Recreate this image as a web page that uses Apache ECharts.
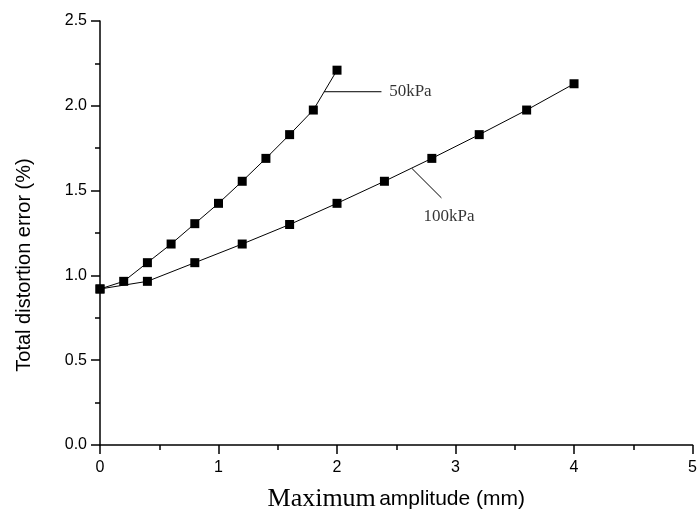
<!DOCTYPE html>
<html>
<head>
<meta charset="utf-8">
<script src="https://cdn.jsdelivr.net/npm/echarts@6/dist/echarts.min.js"></script>
<style>html,body{margin:0;padding:0;background:#fff;}#c{width:700px;height:517px;}</style>
</head>
<body>
<div id="c"></div>
<script>
const x50 = [0, 0.2, 0.4, 0.6, 0.8, 1.0, 1.2, 1.4, 1.6, 1.8, 2.0];
const y50 = [0.92, 0.965, 1.075, 1.185, 1.305, 1.425, 1.555, 1.69, 1.83, 1.975, 2.21];
const x100 = [0, 0.4, 0.8, 1.2, 1.6, 2.0, 2.4, 2.8, 3.2, 3.6, 4.0];
const y100 = [0.92, 0.965, 1.075, 1.185, 1.30, 1.425, 1.555, 1.69, 1.83, 1.975, 2.13];
const seriesNames = ['50kPa', '100kPa'];
// annotation leader lines and label anchors (data units)
const lead50 = [[1.89, 2.083], [2.375, 2.083]];
const lead100 = [[2.633, 1.63], [2.881, 1.457]];
const labelPos50 = [2.44, 2.083];
const labelPos100 = [2.73, 1.35];

const chart = echarts.init(document.getElementById('c'), null, {renderer: 'canvas'});
const black = '#000';
const sans = 'Liberation Sans, Arial, sans-serif';
const serif = 'Liberation Serif, Times New Roman, serif';

function pairs(xs, ys) { return xs.map((x, i) => [x, ys[i]]); }

chart.setOption({
  animation: false,
  backgroundColor: '#fff',
  grid: {left: 100, right: 7, top: 21, bottom: 63, containLabel: false},
  xAxis: {
    type: 'value', min: 0, max: 5, interval: 1,
    name: '{a|Maximum} {b|amplitude (mm)}',
    nameLocation: 'middle', nameGap: 41,
    nameTextStyle: {
      rich: {
        a: {fontFamily: serif, fontSize: 26, color: black},
        b: {fontFamily: sans, fontSize: 21, color: black}
      }
    },
    axisLine: {show: true, onZero: false, lineStyle: {color: black, width: 1.5}},
    axisTick: {show: true, inside: false, length: 9, lineStyle: {color: black, width: 1.5}},
    minorTick: {show: true, splitNumber: 2, length: 5, lineStyle: {color: black, width: 1.5}},
    axisLabel: {color: black, fontFamily: sans, fontSize: 16, margin: 15},
    splitLine: {show: false}
  },
  yAxis: {
    type: 'value', min: 0, max: 2.5, interval: 0.5,
    name: 'Total distortion error (%)',
    nameLocation: 'middle', nameGap: 66, nameRotate: 90,
    nameTextStyle: {fontFamily: sans, fontSize: 20, color: black, padding: [0, 64, 0, 0]},
    axisLine: {show: true, onZero: false, lineStyle: {color: black, width: 1.5}},
    axisTick: {show: true, inside: false, length: 9, lineStyle: {color: black, width: 1.5}},
    minorTick: {show: true, splitNumber: 2, length: 5, lineStyle: {color: black, width: 1.5}},
    axisLabel: {color: black, fontFamily: sans, fontSize: 16, margin: 13,
      formatter: v => v.toFixed(1)},
    splitLine: {show: false}
  },
  series: [
    {
      name: seriesNames[0], type: 'line', data: pairs(x50, y50),
      symbol: 'rect', symbolSize: 9, showSymbol: true,
      lineStyle: {color: black, width: 1}, itemStyle: {color: black}
    },
    {
      name: seriesNames[1], type: 'line', data: pairs(x100, y100),
      symbol: 'rect', symbolSize: 9, showSymbol: true,
      lineStyle: {color: black, width: 1}, itemStyle: {color: black}
    },
    {
      type: 'line', data: lead50, symbol: 'none',
      lineStyle: {color: black, width: 1}, silent: true
    },
    {
      type: 'line', data: lead100, symbol: 'none',
      lineStyle: {color: black, width: 1}, silent: true
    },
    {
      type: 'scatter', symbolSize: 0, silent: true,
      data: [
        {value: labelPos50, label: {formatter: seriesNames[0]}},
        {value: labelPos100, label: {formatter: seriesNames[1]}}
      ],
      label: {show: true, position: 'right', distance: 0, color: black,
        fontFamily: serif, fontSize: 17}
    }
  ]
});
</script>
</body>
</html>
